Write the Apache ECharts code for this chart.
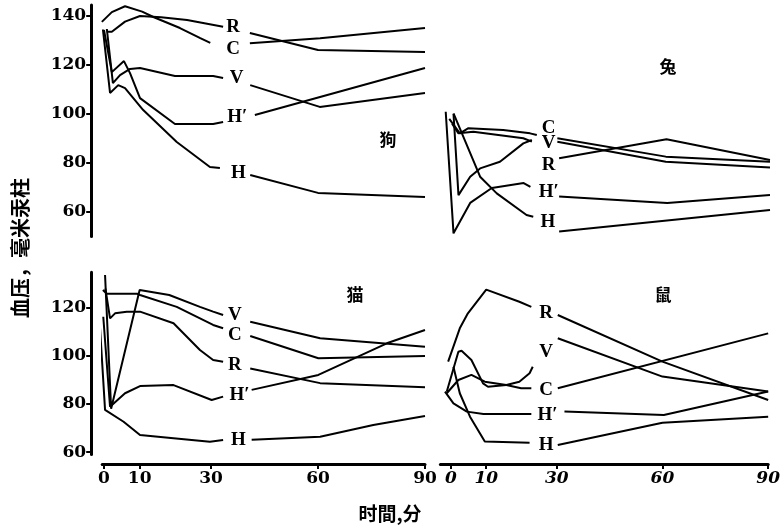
<!DOCTYPE html>
<html><head><meta charset="utf-8">
<script src="https://cdn.jsdelivr.net/npm/echarts@6/dist/echarts.min.js"></script>
<style>html,body{margin:0;padding:0;background:#fff}#c{width:783px;height:529px}</style>
</head><body><div id="c"></div>
<script>
// ---- data (minutes, mmHg); null = gap where the curve label sits ----
const xTicks = [0, 10, 30, 60, 90];
const topYTicks = [60, 80, 100, 120, 140];
const botYTicks = [60, 80, 100, 120];

// 狗 (dog)
const dogR  = [[0.8,133.6],[2.2,133.6],[5.9,137.7],[10.1,140],[16,139.5],[23.3,138.4],[33.4,135.6],null,[40.9,133.1],[60,126.1],[90,125.3]];
const dogC  = [[-0.6,137.6],[2.2,141.6],[5.9,144],[10.7,141.8],[14,139.5],[21.3,135.1],[27,131],[29.8,129],null,[40.9,128.9],[60.6,130.9],[90,135.1]];
const dogV  = [[0.8,134.7],[2.5,112.6],[4.5,115.9],[7.3,118.4],[10.1,118.8],[19.9,115.5],[30.6,115.5],[33.4,114.7],null,[41,111.8],[60.5,102.9],[90,108.6]];
const dogHp = [[0,134.3],[2.2,117.1],[5.6,121.6],[7.3,116.7],[10.1,106.5],[19.9,95.9],[30.6,95.9],[33.4,96.7],null,[42.3,99.6],[90,118.8]];
const dogH  = [[-0.3,134.5],[1.7,108.6],[4,111.8],[5.9,110.6],[11,101.6],[20.4,88.6],[29.7,78.4],[32.5,78],null,[41,75.1],[60,67.8],[90,66.1]];
const dogLabels = [['R',36.2,135.6],['C',36.2,126.4],['V',37.2,114.6],['H′',37.4,98.9],['H',37.7,75.9]];

// 兔 (rabbit)
const rabC  = [[-0.5,98],[2.5,92.1],[4.9,94.2],[14.7,93.5],[22.3,92.1],[24.2,91.4],null,[30,90.1],[60.6,82.6],[90,80.5]];
const rabV  = [[0.3,96],[2.1,92.1],[6.3,92.8],[20.4,90.1],[22.8,88.7],null,[30,88.7],[60.6,80.5],[90,78.2]];
const rabR  = [[0.7,100],[2.1,66.9],[5.4,74.4],[8.2,77.8],[13.8,80.5],[20.4,88],[22.8,89.4],null,[30.5,81.9],[60.8,89.7],[90,81.2]];
const rabHp = [[-1.5,100.9],[0.7,51.3],[5.4,63.7],[11.5,69.8],[20.5,71.8],[22.4,70.3],null,[30.5,66.3],[61,63.7],[90,66.9]];
const rabH  = [[0.7,100.3],[8.2,74.4],[12.9,67.6],[21.3,58.8],[23.2,58.1],null,[30.5,52],[90,60.8]];
const rabLabels = [['C',27.5,94.2],['V',27.5,88],['R',27.5,79.2],['H′',27.6,68.3],['H',27.3,56]];

// 猫 (cat)
const catV  = [[0.3,133.4],[2,78],[10,127.2],[18.3,125.1],[26.9,120.2],[30.6,118.2],[33.4,116.8],null,[41,114],[60.6,107.2],[90,103.7]];
const catC  = [[-0.3,127.2],[0.8,125.6],[9.3,125.6],[10.1,125.1],[20.4,120.2],[30.6,112.7],[33.4,111.3],null,[41,108.1],[60.1,98.9],[90,99.8]];
const catR  = [[0.4,127.7],[1.7,115.4],[3.1,117.5],[6.4,118.2],[10.1,118.2],[19.5,113.4],[26.9,102.3],[30.6,98.2],[33.4,97.5],null,[41,94.7],[60.6,88.6],[90,86.9]];
const catHp = [[-0.2,116.1],[1.7,78.8],[5.9,84.4],[10.1,87.4],[19.5,87.8],[30.2,81.6],[33.4,83],null,[41.4,85.8],[60.1,92],[79.3,105.1],[90,110.6]];
const catH  = [[-1.1,111.3],[0.3,77.5],[5.5,72.6],[10.1,67.1],[19.5,65.8],[29.7,64.3],[33.4,65],null,[41.4,65.1],[60.6,66.4],[75.5,71.3],[90,75]];
const catLabels = [['V',36.7,116.8],['C',36.7,108.5],['R',36.7,96.1],['H′',38,83.7],['H',37.7,65]];

// 鼠 (rat)
const ratR  = [[-0.8,97.5],[2.5,111.3],[4.8,117.5],[10,127.3],[19.4,122.3],[22.8,120.2],null,[30.3,116.8],[60,97.5],[90,81.6]];
const ratV  = [[-1.2,85],[2.1,101.6],[3,102],[5.8,98.2],[9.1,88.5],[10.5,87.1],[15.7,87.8],[19.4,89.2],[22.3,92.7],[23.2,95.4],null,[30.3,107.2],[60,91.3],[90,85.1]];
const ratC  = [[-1.2,84.4],[2.1,89.9],[5.8,92],[9.6,89.2],[15.7,87.8],[19.9,86.5],[22.8,86.5],null,[30.3,86.5],[90,109.2]];
const ratHp = [[-1.7,85.1],[0.7,80.2],[4.5,76.8],[9.2,75.8],[22.8,75.8],null,[32.2,76.8],[60.4,75.4],[90,85.1]];
const ratH  = [[0.7,95.4],[2.5,84.4],[5.4,74.7],[9.6,64.4],[22.3,63.9],null,[30.3,63],[60,72.2],[90,74.7]];
const ratLabels = [['R',27,117.5],['V',27,101.6],['C',27,85.8],['H′',27.4,75.4],['H',27,63]];

const panelNames = ['狗', '兔', '猫', '鼠'];
const yTitle = '血压，毫米汞柱';
const xTitle = '时間,分';

// ---- chart ----
const chart = echarts.init(document.getElementById('c'), null, {renderer: 'canvas'});
const SERIF = 'DejaVu Serif';
const LSERIF = 'Liberation Serif';
const CJK = 'Noto Sans CJK SC';

function withGaps(arr) {
  const out = [];
  arr.forEach((p, i) => {
    if (p === null) {
      out.push([(arr[i - 1][0] + arr[i + 1][0]) / 2, '-']);
    } else out.push(p);
  });
  return out;
}
const panels = [
  {curves: [dogR, dogC, dogV, dogHp, dogH], labels: dogLabels},
  {curves: [rabC, rabV, rabR, rabHp, rabH], labels: rabLabels},
  {curves: [catV, catC, catR, catHp, catH], labels: catLabels},
  {curves: [ratR, ratV, ratC, ratHp, ratH], labels: ratLabels}
];
const series = [];
panels.forEach((p, g) => {
  p.curves.forEach(c => series.push({
    type: 'line', xAxisIndex: g, yAxisIndex: g, data: withGaps(c),
    symbol: 'none', clip: false, connectNulls: false, silent: true,
    lineStyle: {color: '#000', width: 2}
  }));
  series.push({
    type: 'scatter', xAxisIndex: g, yAxisIndex: g, symbolSize: 1,
    itemStyle: {color: 'rgba(255,255,255,0)'}, silent: true,
    data: p.labels.map(l => [l[1], l[2], l[0]]),
    label: {show: true, position: 'inside', formatter: d => d.data[2],
      color: '#000', opacity: 1, textBorderWidth: 0, textBorderColor: 'transparent',
      fontFamily: LSERIF, fontWeight: 'bold', fontSize: 19}
  });
});

const grids = [
  {left: 102.2, top: 5, width: 322.8, height: 231.5},
  {left: 440.4, top: 5, width: 329.6, height: 231.5},
  {left: 102.2, top: 272.3, width: 322.8, height: 182.3},
  {left: 440.4, top: 272.3, width: 329.6, height: 182.3}
];
const xRanges = [[-0.5, 90], [-3, 90], [-0.5, 90], [-3, 90]];
const xAxes = grids.map((g, i) => ({
  type: 'value', gridIndex: i, min: xRanges[i][0], max: xRanges[i][1],
  show: i >= 2, offset: 9.5,
  axisLine: {show: true, onZero: false, lineStyle: {color: '#000', width: 3}},
  axisTick: {show: true, inside: false, length: 5, customValues: xTicks, lineStyle: {color: '#000', width: 2}},
  axisLabel: {show: true, customValues: xTicks, margin: 6, color: '#000',
    fontFamily: SERIF, fontWeight: 'bold', fontSize: 17, fontStyle: i === 3 ? 'italic' : 'normal'},
  splitLine: {show: false}
}));
const yRanges = [[50, 144.5], [50, 144.5], [59, 134.5], [59, 134.5]];
const yAxes = grids.map((g, i) => ({
  type: 'value', gridIndex: i, min: yRanges[i][0], max: yRanges[i][1],
  show: i % 2 === 0, offset: 11,
  axisLine: {show: true, onZero: false, lineStyle: {color: '#000', width: 3}},
  axisTick: {show: true, inside: false, length: 5, customValues: i < 2 ? topYTicks : botYTicks, lineStyle: {color: '#000', width: 2}},
  axisLabel: {show: true, customValues: i < 2 ? topYTicks : botYTicks, margin: 5, color: '#000',
    fontFamily: SERIF, fontWeight: 'bold', fontSize: 17},
  splitLine: {show: false}
}));

const namePos = [[388, 140], [668, 67], [355, 295], [663, 295]];
const graphic = panelNames.map((n, i) => ({
  type: 'text', x: namePos[i][0], y: namePos[i][1],
  style: {text: n, fill: '#000', font: 'bold 17px "' + CJK + '"', textAlign: 'center', textVerticalAlign: 'middle'}
}));
graphic.push({
  type: 'text', x: 20, y: 248, rotation: Math.PI / 2,
  style: {text: yTitle, fill: '#000', font: 'bold 20px "' + CJK + '"', textAlign: 'center', textVerticalAlign: 'middle'}
});
graphic.push({
  type: 'text', x: 390, y: 514,
  style: {text: xTitle, fill: '#000', font: 'bold 19px "' + CJK + '"', textAlign: 'center', textVerticalAlign: 'middle'}
});

chart.setOption({
  animation: false,
  backgroundColor: '#fff',
  grid: grids,
  xAxis: xAxes,
  yAxis: yAxes,
  series: series,
  graphic: graphic
});
</script></body></html>
